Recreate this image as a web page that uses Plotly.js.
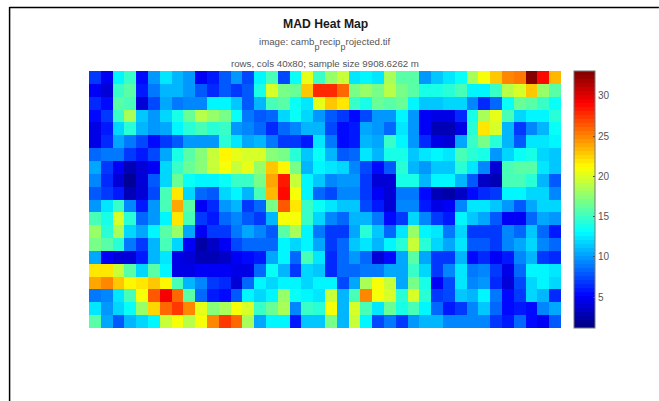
<!DOCTYPE html>
<html><head><meta charset="utf-8">
<script src="https://cdn.plot.ly/plotly-3.0.1.min.js"></script>
<style>html,body{margin:0;padding:0;background:#fff;overflow:hidden}</style>
</head><body><div id="chart" style="width:659px;height:401px"></div>
<script>
const row00=[6.7,5,13,15,5.5,10,12.5,11,10,5,6,8,10,7.5,13,15.5,7.5,13.5,20.5,15,18,19.5,12.5,13,12.5,18.5,16,16,10,11.5,12.5,13.5,18.5,21,23,25,25.5,33,29,23.5];
const row01=[5,4,15,16,6,9,11,11,10,8,6.5,8,7,8,14,20,17,16.5,23,28,28,26,17,18,17,19,17,16,14,14,14.5,15.5,13,13,15,19,20,23,18,16];
const row02=[6.5,5.5,16,15.5,3.7,7.5,10.5,9,9.5,9.5,13,13,11.5,8,11,15.5,16,13.5,12.5,20.5,23,22,15,14,16.5,16,16.5,13,11.5,11.5,12,12,9.5,6.5,8.5,13.5,16.5,16,15,13.5];
const row03=[5.5,7,15,18.5,11.5,10,12,14,16.5,19,18,17,13.5,9,8,8.5,12,13.5,12,10,8,7,5.5,7.5,10,10,13,10,5,4.5,4.5,6.5,14,18.5,20.5,15.5,12,13,13,14.5];
const row04=[4.5,6,12,14.5,11,10,10.5,13,14.5,15.5,14.5,15,10,9.5,8.5,6.5,8.5,9.5,11,11,7.5,5.5,6,10.5,10,8.5,12.5,10,5,3,3,4.5,14.5,22,20,11,7,9.5,11,13.5];
const row05=[4.5,6.5,10.5,9,7.5,5.5,7,8,10,10,10,14.5,12.5,10.5,11,9,7,7,6,12.5,9,5.5,6,11,10.5,15,13,10,6.5,4.5,4,10.5,15,17,14.5,11,8,12.5,12.5,13];
const row06=[8.5,9,9,7,6,7.5,10.5,14,16,17.5,19.5,21.5,20.5,20,20,17.5,17,14.5,11.5,13.5,11,8,8.5,12.5,11,14,14,11.5,12.5,13,12.5,15.5,14.5,14,10,12,13.5,14,12,11.5];
const row07=[10.5,7,5,3,4,5,12,15,16.5,17.5,19.5,21,19.5,20.5,18,23,21.5,17,11,13,12.5,12,9.5,7.5,5.5,8,14.5,11,10,11.5,11.5,14.5,12.5,9.5,4,15.5,16,16,12.5,11.5];
const row08=[9.5,6.5,3.7,1.7,4,8,12,16.5,13.5,13,13,13.5,15,15,17,24,28.5,19.5,13,11.5,9.5,10,10,7,4,3.7,14,14,11,13,13,11,8,3.2,3,15.5,15.5,14.5,11,8];
const row09=[8,7,6,3,4,7.5,15.5,22,12,8.5,8,12,13,11,15.5,23.5,29,21,13,8.5,7.5,9.5,9.5,7,5,3.7,9,9,5.5,3,2.3,3.2,5.5,6.5,7,13,13,12,12,9.5];
const row10=[10,12.5,15,9.5,6,10,15.5,24,16,5,6.5,10,11,7,8.5,17,26.5,22,15,13.5,12.5,11.5,11.5,7.5,6,4,9.5,9.5,6,4.3,5,9.5,12.5,12.5,11.5,10,8,10.5,12,12];
const row11=[15.5,14,20,14.5,8.5,10,13,22,15.5,7,6,8.5,9.5,8,7,11,21,21,15,12,9.5,8.5,11,11,9,5.5,7,12,9.5,7,6,13,11.5,10.5,8,5,5,8.5,10.5,10];
const row12=[18,14.5,18.5,12,10.5,13,16,18,10.5,5,7,7,9,10.5,9.5,8,16,18.5,13,9,7,7,10.5,14.5,11.5,8.5,12.5,18,13,12.5,9,12,7,7,7,9.5,8.5,11.5,8.5,6];
const row13=[17,16,14.5,9,7,11,15.5,12,5,2.3,3.3,5,7.5,8.5,8.5,8.5,13,12,13,10.5,7,8.5,11.5,12.5,11,13,14.5,19.5,14.5,12,10.5,12.5,8,8,7,9.5,10.5,12,9.5,8.5];
const row14=[10.5,5,4,3.8,6,11,12.5,4.5,3.8,3,2.8,3.3,5,5.5,6,10.5,13,8.5,15.5,12.5,6.5,8.5,10,8.5,4,5.5,10.5,16,10.5,7,7,11,5.5,6.5,5,6,9.5,11,7,6.5];
const row15=[22,22,19.5,16,12,16,13,4.5,4.5,5,5,5,4.3,4.3,8.5,13.5,11,7,12,11.5,6.5,8.5,8.5,9,9,10.5,10.5,15,12,7,9.5,12.5,9,9.5,7,4.5,8.5,13,13,12.5];
const row16=[24,25,23,21.5,22,23,21.3,15.5,11,9.5,7,6.5,3.7,8.5,13,12,13,13,12,13,13,7.5,10.5,18.5,21,19.5,10.5,17,14,5,7.5,12.5,9.5,10,6.5,4,7.5,12,13,12];
const row17=[9,9.5,12.5,15.5,21,26.5,29.5,26,16,8.5,6,5.5,8,13,12,13,18,13.5,13,12.5,19.5,11,15.5,25,21,20,14.5,20,14.5,7,7.5,11.5,11,13,9,5.5,7,12,11,6.5];
const row18=[12.5,10,12,13.5,18,22.5,26,27.5,25,20.5,17.5,18.5,21,20,15,16.5,18.5,9.5,15,14.5,21,11,20,15.5,12.5,16.5,14,15.5,13,8.5,6,7,9.5,11.5,8.5,5.5,6,5.5,9.5,10.5];
const row19=[16,10.5,8,11,12,13,19.5,21,19,21,25,27.5,26,18.5,10.5,13,13,6,11.5,11.5,17,11,19.5,13,7.5,9,7,10,11,11,9.5,9.5,9.5,9.5,7,6,8.5,5.5,5,8];
const zRows=[row00,row01,row02,row03,row04,row05,row06,row07,row08,row09,row10,row11,row12,row13,row14,row15,row16,row17,row18,row19];
const colorTicks=[5,10,15,20,25,30];
const titleText="MAD Heat Map";
const subP='<span style="font-size:9px;baseline-shift:-5px">p</span>';
const subtitleOne="image: camb"+subP+"recip"+subP+"rojected.tif";
const subtitleTwo="rows, cols 40x80; sample size 9908.6262 m";

const W=659,H=401,L=88.5,R=561,T=71,B=328;
function jet(t){
  const c=v=>Math.round(255*Math.max(0,Math.min(1,v)));
  return `rgb(${c(1.5-Math.abs(4*t-3))},${c(1.5-Math.abs(4*t-2))},${c(1.5-Math.abs(4*t-1))})`;
}
const colorscale=[];
for(let i=0;i<64;i++){const col=jet((i+0.5)/64);colorscale.push([i/64,col]);colorscale.push([(i+1)/64,col]);}
const font="Liberation Sans, Arial, sans-serif";
const py=y=>1-(y-T)/(B-T);
const px=x=>(x-L)/(R-L);
Plotly.newPlot('chart',[{
  type:'heatmap',z:zRows,zmin:1.15,zmax:33.1,colorscale:colorscale,zsmooth:false,xgap:0,ygap:0,
  colorbar:{x:px(574.5),xanchor:'left',xpad:0,ypad:0,y:0.5,yanchor:'middle',len:1,lenmode:'fraction',
    thickness:21,thicknessmode:'pixels',tickmode:'array',tickvals:colorTicks,ticktext:colorTicks.map(String),
    ticks:'inside',ticklen:2,tickcolor:'#444',tickwidth:1,outlinecolor:'#777',outlinewidth:1,
    tickfont:{family:font,size:10,color:'#555'}}
}],{
  width:W,height:H,margin:{l:L,r:W-R,t:T,b:H-B,pad:0},paper_bgcolor:'#fff',plot_bgcolor:'#fff',
  xaxis:{visible:false,showgrid:false,zeroline:false,range:[-0.5,39.5]},
  yaxis:{visible:false,showgrid:false,zeroline:false,range:[19.5,-0.5]},
  annotations:[
    {text:titleText,x:px(325),y:py(24),xref:'paper',yref:'paper',showarrow:false,xanchor:'center',yanchor:'middle',font:{family:font,size:12.2,color:'#1a1a1a',weight:700}},
    {text:subtitleOne,x:px(325),y:py(44.5),xref:'paper',yref:'paper',showarrow:false,xanchor:'center',yanchor:'middle',font:{family:font,size:9.7,color:'#555'}},
    {text:subtitleTwo,x:px(325),y:py(63),xref:'paper',yref:'paper',showarrow:false,xanchor:'center',yanchor:'middle',font:{family:font,size:9.7,color:'#555'}}
  ],
  shapes:[
    {type:'line',xref:'paper',yref:'paper',x0:px(9),x1:px(659),y0:py(7.5),y1:py(7.5),line:{color:'#000',width:1.5}},
    {type:'line',xref:'paper',yref:'paper',x0:px(9),x1:px(9),y0:py(7),y1:py(401),line:{color:'#000',width:1.5}}
  ]
},{displayModeBar:false,staticPlot:true});
</script></body></html>
